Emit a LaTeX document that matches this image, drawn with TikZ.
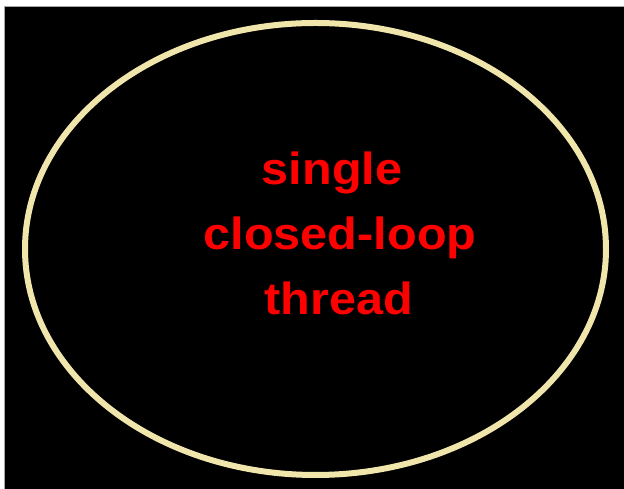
\documentclass[tikz,border=0pt]{standalone}
\usepackage{fontspec}
\newfontfamily\labfont[FakeStretch=1.08]{Liberation Sans}
\definecolor{ringcol}{RGB}{240,230,172}
\definecolor{labred}{RGB}{255,0,0}
\tikzset{
  lab/.style={font=\labfont\bfseries\fontsize{45}{45}\selectfont, text=labred, anchor=base, inner sep=0pt},
}
\begin{document}
\begin{tikzpicture}[x=1pt,y=1pt]
\useasboundingbox (0,0) rectangle (624,489);
\fill[white] (0,0) rectangle (624,489);
\fill[black] (4,-1) rectangle (625,483);
\draw[gray!70, line width=0.8pt] (4,0) -- (4,483) -- (624,483);
\draw[ringcol, line width=6pt] (315.5,240) ellipse [x radius=290.5, y radius=226];
\node[lab] (l1) at (332,304) {single};
\node[lab] (l2) at (340,239) {closed-loop};
\node[lab] (l3) at (338.5,174) {thread};
\end{tikzpicture}
\end{document}
